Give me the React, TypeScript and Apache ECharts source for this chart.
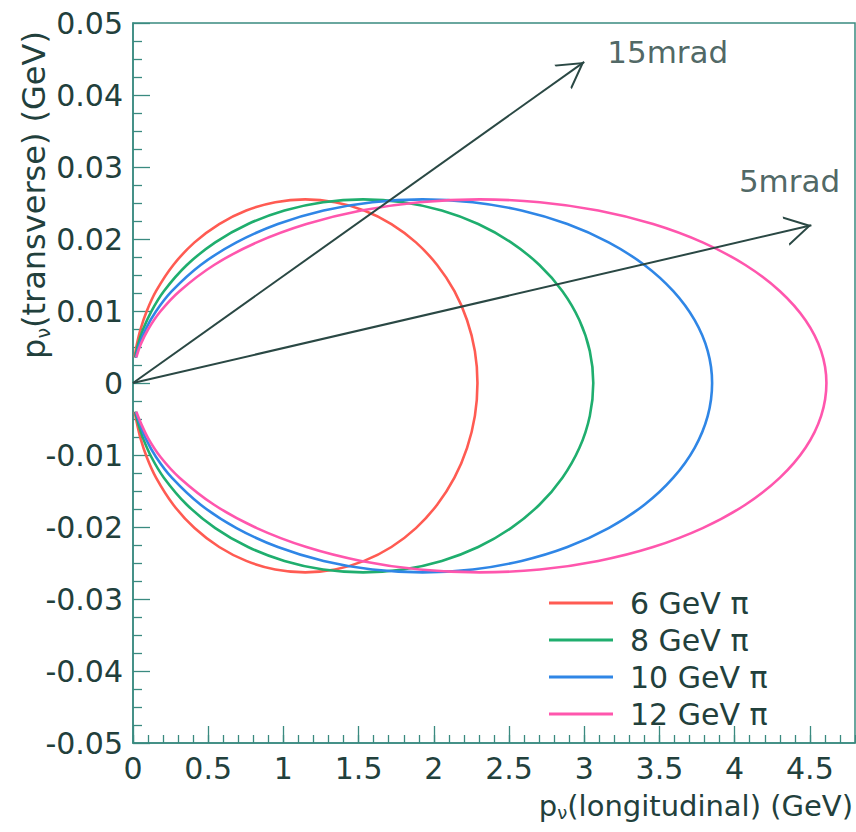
import React, { useEffect, useRef } from "react";
import * as echarts from "echarts";

// ---- data ----
const seriesNames = ["6 GeV π", "8 GeV π", "10 GeV π", "12 GeV π"];
const seriesColors = ["#ff5b52", "#1fae6e", "#2f86e6", "#ff56ad"];

// longitudinal momentum (GeV): upper arc left->right, then lower arc right->left
const long6 = [0.011, 0.025, 0.05, 0.091, 0.153, 0.268, 0.409, 0.573, 0.753, 0.946, 1.145, 1.344, 1.537, 1.718, 1.881, 2.022, 2.137, 2.221, 2.273, 2.29,
  2.273, 2.221, 2.137, 2.022, 1.881, 1.718, 1.537, 1.344, 1.145, 0.946, 0.753, 0.573, 0.409, 0.268, 0.153, 0.091, 0.05, 0.025, 0.011];
const long8 = [0.015, 0.033, 0.067, 0.122, 0.205, 0.358, 0.547, 0.765, 1.007, 1.264, 1.53, 1.796, 2.053, 2.295, 2.513, 2.702, 2.855, 2.968, 3.037, 3.06,
  3.037, 2.968, 2.855, 2.702, 2.513, 2.295, 2.053, 1.796, 1.53, 1.264, 1.007, 0.765, 0.547, 0.358, 0.205, 0.122, 0.067, 0.033, 0.015];
const long10 = [0.019, 0.042, 0.084, 0.153, 0.258, 0.45, 0.688, 0.963, 1.267, 1.591, 1.925, 2.259, 2.583, 2.888, 3.162, 3.4, 3.592, 3.734, 3.821, 3.85,
  3.821, 3.734, 3.592, 3.4, 3.162, 2.888, 2.583, 2.259, 1.925, 1.591, 1.267, 0.963, 0.688, 0.45, 0.258, 0.153, 0.084, 0.042, 0.019];
const long12 = [0.022, 0.05, 0.101, 0.183, 0.309, 0.539, 0.823, 1.153, 1.517, 1.905, 2.305, 2.705, 3.093, 3.458, 3.787, 4.071, 4.301, 4.471, 4.575, 4.61,
  4.575, 4.471, 4.301, 4.071, 3.787, 3.458, 3.093, 2.705, 2.305, 1.905, 1.517, 1.153, 0.823, 0.539, 0.309, 0.183, 0.101, 0.05, 0.022];
// transverse momentum (GeV), same point order (all four curves reach the same height)
const transverse = [0.00355, 0.0053, 0.00746, 0.00996, 0.01275, 0.01639, 0.01953, 0.02208, 0.02396, 0.02511, 0.0255, 0.02511, 0.02396, 0.02208, 0.01953, 0.01639, 0.01275, 0.00872, 0.00443, 0,
  -0.00457, -0.009, -0.01315, -0.01691, -0.02015, -0.02278, -0.02471, -0.0259, -0.0263, -0.0259, -0.02471, -0.02278, -0.02015, -0.01691, -0.01315, -0.01028, -0.00769, -0.00547, -0.004];

const longArrays = [long6, long8, long10, long12];

// angle arrows from the origin
const arrowTipX = [3.0, 4.51];
const arrowTipY = [0.0446, 0.0219];
const annotationLabels = ["15mrad", "5mrad"];
const annotationX = [3.555, 4.365];
const annotationY = [0.046, 0.0281];

const TEXT = "#22403c";
const AXIS = "#3a8a80";
const FONT = "DejaVu Sans";

const arrowPath = "path://M0,26 L15,0 L30,26 L27.7,26 L15,4 L2.3,26 Z";

export default function App() {
  const ref = useRef<HTMLDivElement>(null);
  useEffect(() => {
    if (!ref.current) return;
    const chart = echarts.init(ref.current, undefined, { renderer: "svg" });

    const curveSeries = seriesNames.map((name, i) => ({
      name,
      type: "line",
      data: longArrays[i].map((x, k) => [x, transverse[k]]),
      showSymbol: false,
      smooth: 0.3,
      color: seriesColors[i],
      lineStyle: { width: 2.6, color: seriesColors[i] },
      silent: true,
      z: 3,
    }));

    const arrowSeries = {
      name: "arrows",
      type: "line",
      data: [],
      silent: true,
      markLine: {
        silent: true,
        animation: false,
        label: { show: false },
        lineStyle: { color: "#2a4844", width: 2, type: "solid" },
        emphasis: { disabled: true },
        data: arrowTipX.map((x, i) => [
          { coord: [0, 0], symbol: "none" },
          { coord: [x, arrowTipY[i]], symbol: arrowPath, symbolSize: [30, 26], symbolOffset: [0, 13] },
        ]),
      },
      z: 4,
    };

    const annotationSeries = {
      name: "annotations",
      type: "scatter",
      symbolSize: 1,
      silent: true,
      itemStyle: { color: "transparent" },
      data: annotationX.map((x, i) => [x, annotationY[i], annotationLabels[i]]),
      label: {
        show: true,
        position: "inside",
        formatter: (p: any) => p.value[2],
        color: TEXT,
        fontSize: 31,
        fontFamily: FONT,
      },
    };

    const option: any = {
      animation: false,
      backgroundColor: "#ffffff",
      grid: {
        left: 133,
        right: 1,
        top: 23,
        bottom: 89,
        show: true,
        borderColor: AXIS,
        borderWidth: 1.5,
        backgroundColor: "transparent",
      },
      legend: {
        data: seriesNames,
        orient: "vertical",
        left: 549,
        top: 588,
        padding: 0,
        itemGap: 7,
        itemWidth: 64,
        itemHeight: 3,
        icon: "rect",
        selectedMode: false,
        textStyle: {
          color: TEXT,
          fontSize: 30,
          fontFamily: FONT,
          lineHeight: 30,
          padding: [0, 0, 0, 12],
        },
      },
      xAxis: [
        {
          type: "value",
          min: 0,
          max: 4.8,
          interval: 0.5,
          position: "bottom",
          axisLine: { show: true, onZero: false, lineStyle: { color: AXIS, width: 1.5 } },
          axisTick: { show: true, inside: true, length: 17, lineStyle: { color: AXIS, width: 1.3 } },
          splitLine: { show: false },
          axisLabel: {
            color: TEXT,
            fontSize: 30,
            fontFamily: FONT,
            margin: 10,
            showMaxLabel: false,
            formatter: (v: number) => (v === 0 ? "0" : String(Math.round(v * 10) / 10)),
          },
        },
        {
          type: "value",
          min: 0,
          max: 4.8,
          interval: 0.1,
          position: "bottom",
          axisLine: { show: false, onZero: false },
          axisTick: { show: true, inside: true, length: 8, lineStyle: { color: AXIS, width: 1.3 } },
          axisLabel: { show: false },
          splitLine: { show: false },
        },
      ],
      yAxis: {
        type: "value",
        min: -0.05,
        max: 0.05,
        interval: 0.01,
        axisLine: { show: true, onZero: false, lineStyle: { color: AXIS, width: 1.5 } },
        axisTick: { show: true, inside: true, length: 17, lineStyle: { color: AXIS, width: 1.3 } },
        minorTick: { show: true, splitNumber: 4, length: 9, lineStyle: { color: AXIS, width: 1.3 } },
        splitLine: { show: false },
        minorSplitLine: { show: false },
        axisLabel: {
          color: TEXT,
          fontSize: 30,
          fontFamily: FONT,
          margin: 10,
          formatter: (v: number) => (Math.abs(v) < 1e-9 ? "0" : v.toFixed(2)),
        },
      },
      graphic: [
        {
          type: "text",
          x: 34,
          y: 195,
          rotation: Math.PI / 2,
          silent: true,
          style: {
            text: "{a|p}{b|ν}{a|(transverse) (GeV)}",
            align: "center",
            verticalAlign: "middle",
            fill: TEXT,
            rich: {
              a: { fontSize: 32, fontFamily: FONT, lineHeight: 36, verticalAlign: "middle", fill: TEXT },
              b: { fontSize: 19, fontFamily: FONT, lineHeight: 20, verticalAlign: "bottom", fill: TEXT },
            },
          },
        },
        {
          type: "text",
          x: 853,
          y: 806,
          silent: true,
          style: {
            text: "{a|p}{b|ν}{a|(longitudinal) (GeV)}",
            align: "right",
            verticalAlign: "middle",
            fill: TEXT,
            rich: {
              a: { fontSize: 29, fontFamily: FONT, lineHeight: 30, verticalAlign: "middle", fill: TEXT },
              b: { fontSize: 18, fontFamily: FONT, lineHeight: 18, verticalAlign: "bottom", fill: TEXT },
            },
          },
        },
      ],
      series: [...curveSeries, arrowSeries, annotationSeries],
    };
    chart.setOption(option);
    return () => chart.dispose();
  }, []);

  return (
    <div
      ref={ref}
      style={{ position: "fixed", left: 0, top: 0, width: 856, height: 832, background: "#fff" }}
    />
  );
}
